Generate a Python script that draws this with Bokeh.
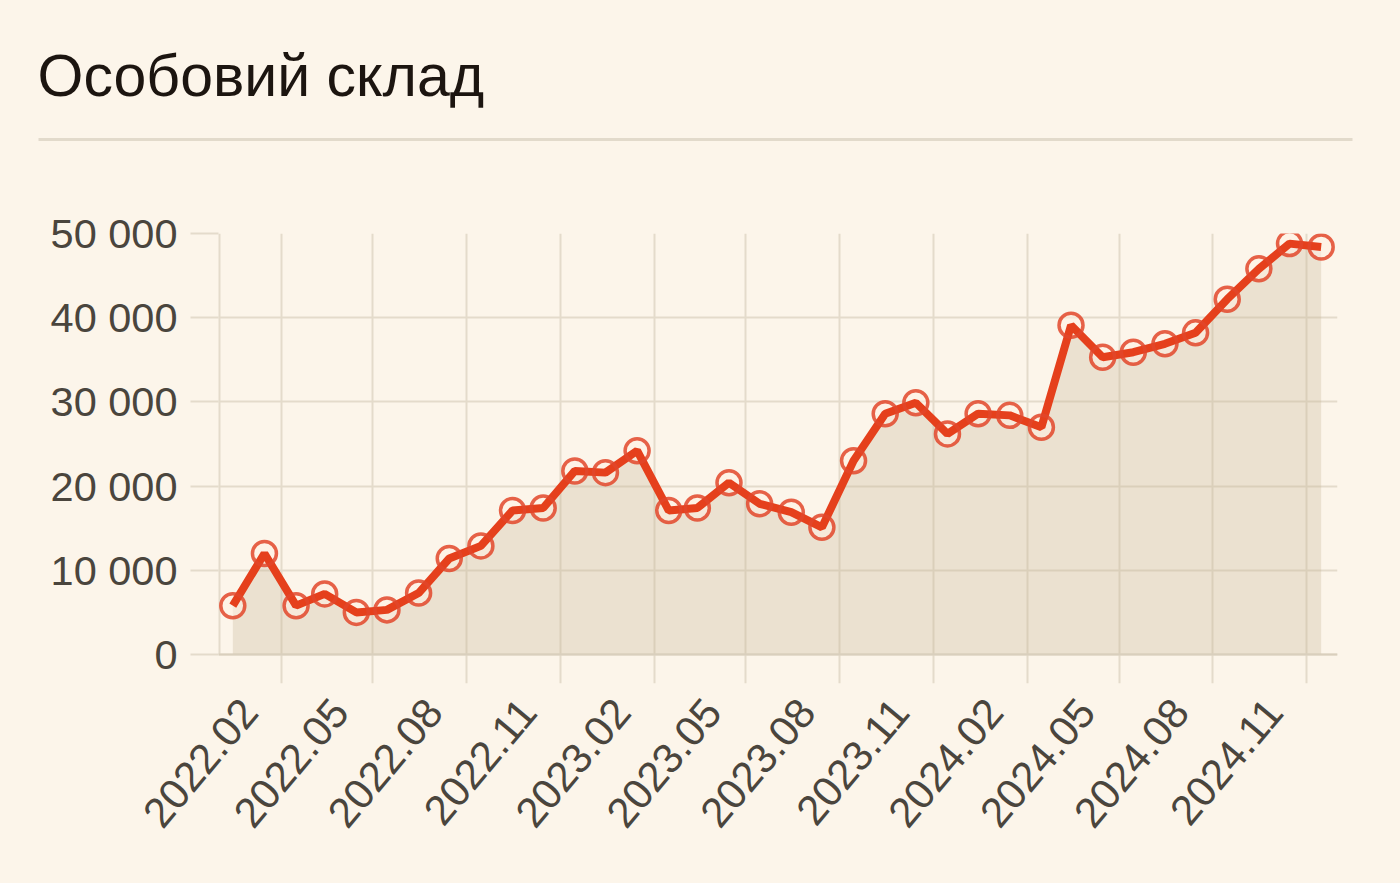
import pandas as pd
from bokeh.plotting import figure
from bokeh.models import FixedTicker, Range1d, Span
from bokeh.core.properties import value
from bokeh.embed import file_html
from bokeh.resources import INLINE

# ---------------- data ----------------
title_text = "Особовий склад"

months = [
    "2021-12", "2022-01", "2022-02", "2022-03", "2022-04", "2022-05",
    "2022-06", "2022-07", "2022-08", "2022-09", "2022-10", "2022-11",
    "2022-12", "2023-01", "2023-02", "2023-03", "2023-04", "2023-05",
    "2023-06", "2023-07", "2023-08", "2023-09", "2023-10", "2023-11",
    "2023-12", "2024-01", "2024-02", "2024-03", "2024-04", "2024-05",
    "2024-06", "2024-07", "2024-08", "2024-09", "2024-10", "2024-11",
]
personnel = [
    5800, 12000, 5800, 7200, 5000, 5300,
    7300, 11400, 12900, 17100, 17400, 21800,
    21600, 24200, 17100, 17400, 20400, 17900,
    16900, 15100, 23000, 28600, 29900, 26200,
    28600, 28400, 27000, 39100, 35300, 35900,
    36900, 38200, 42200, 45800, 48800, 48400,
]
x_tick_labels = ["2022.02", "2022.05", "2022.08", "2022.11",
                 "2023.02", "2023.05", "2023.08", "2023.11",
                 "2024.02", "2024.05", "2024.08", "2024.11"]
y_ticks = [0, 10000, 20000, 30000, 40000, 50000]
y_tick_labels = ["0", "10 000", "20 000", "30 000", "40 000", "50 000"]

# ---------------- styles ----------------
BG = "#fcf5ea"
GRID = "#e4dbcb"
BASE = "#d9cfbd"
LINE = "#e5401c"
RING = "#e2462a"
TICK_TXT = "#4a453d"
FONT = "Liberation Sans"
LABEL_SHIFT_DAYS = 32      # visual offset of rotated x labels (style only)
Y_PAD = -3444              # room below 0 so vertical grid lines run past the axis

x_start = pd.Timestamp("2021-12-01")
x_end = pd.Timestamp("2024-12-01")
dates = [pd.Timestamp(m + "-15") for m in months]
tick_dates = [pd.Timestamp(l.replace(".", "-") + "-01") for l in x_tick_labels]
tick_ms = [t.value // 10**6 for t in tick_dates]
label_ms = [(t - pd.Timedelta(days=LABEL_SHIFT_DAYS)).value // 10**6 for t in tick_dates]

# ---------------- header ----------------
W = 1400
HH = 150
head = figure(width=W, height=HH, output_backend="svg", toolbar_location=None,
              x_range=Range1d(0, W), y_range=Range1d(0, HH),
              min_border=0, background_fill_color=BG, border_fill_color=BG)
head.axis.visible = False
head.grid.visible = False
head.outline_line_color = None
head.text(x=[37], y=[HH - 75], text=[title_text], text_font=value(FONT),
          text_font_size="59px", text_color="#1c1510",
          text_baseline="alphabetic", text_align="left")
head.line(x=[38, 1352], y=[HH - 139, HH - 139], line_color="#e2dacb", line_width=3)

# ---------------- chart ----------------
CH = 883 - HH
p = figure(width=W, height=CH, output_backend="svg", toolbar_location=None,
           x_axis_type="datetime",
           x_range=Range1d(x_start, x_end),
           y_range=Range1d(Y_PAD, 50000),
           min_border_left=218, min_border_right=63,
           min_border_top=233 - HH, min_border_bottom=CH - (683 - HH),
           background_fill_color=BG, border_fill_color=BG)
p.outline_line_color = None

# grids
p.xgrid.ticker = FixedTicker(ticks=tick_ms)
p.ygrid.ticker = FixedTicker(ticks=y_ticks)
for g in (p.xgrid, p.ygrid):
    g.grid_line_color = GRID
    g.grid_line_width = 2

# left axis rule (0 .. 50 000) and x baseline
p.segment(x0=[x_start], y0=[0], x1=[x_start], y1=[50000],
          line_color=GRID, line_width=4)

p.varea(x=dates, y1=[0] * len(personnel), y2=personnel,
        fill_color="#c8b898", fill_alpha=0.32)
p.add_layout(Span(location=0, dimension="width", line_color=BASE, line_width=2))

p.scatter(x=dates, y=personnel, marker="circle", size=24,
          line_color=None, fill_color="#fff1e2", fill_alpha=0.55)
p.line(x=dates, y=personnel, line_color=LINE, line_width=8)
p.scatter(x=dates, y=personnel, marker="circle", size=24,
          line_color=RING, line_width=3.5, line_alpha=0.85, fill_color=None)

# x axis: rotated labels only (tick marks are the grid lines running below 0)
xa = p.xaxis[0]
xa.ticker = FixedTicker(ticks=label_ms)
xa.major_label_overrides = {m: s for m, s in zip(label_ms, x_tick_labels)}
xa.axis_line_color = None
xa.major_tick_line_color = None
xa.minor_tick_line_color = None
xa.major_tick_out = 0
xa.major_tick_in = 0
xa.minor_tick_out = 0
xa.minor_tick_in = 0
xa.major_label_orientation = 50 * 3.14159265 / 180
xa.major_label_text_font = FONT
xa.major_label_text_font_size = "42px"
xa.major_label_text_color = TICK_TXT
xa.major_label_standoff = 21

# y axis
ya = p.yaxis[0]
ya.ticker = FixedTicker(ticks=y_ticks)
ya.major_label_overrides = {v: s for v, s in zip(y_ticks, y_tick_labels)}
ya.major_tick_out = 28
ya.major_tick_in = 0
ya.minor_tick_out = 0
ya.minor_tick_in = 0
ya.major_tick_line_color = GRID
ya.major_tick_line_width = 2
ya.axis_line_color = None
ya.major_label_text_font = FONT
ya.major_label_text_font_size = "41.5px"
ya.major_label_text_color = TICK_TXT
ya.major_label_standoff = 13

html = file_html([head, p], INLINE)
html = html.replace("<body>", '<body style="background-color:%s;">' % BG)
open("out.html", "w").write(html)
